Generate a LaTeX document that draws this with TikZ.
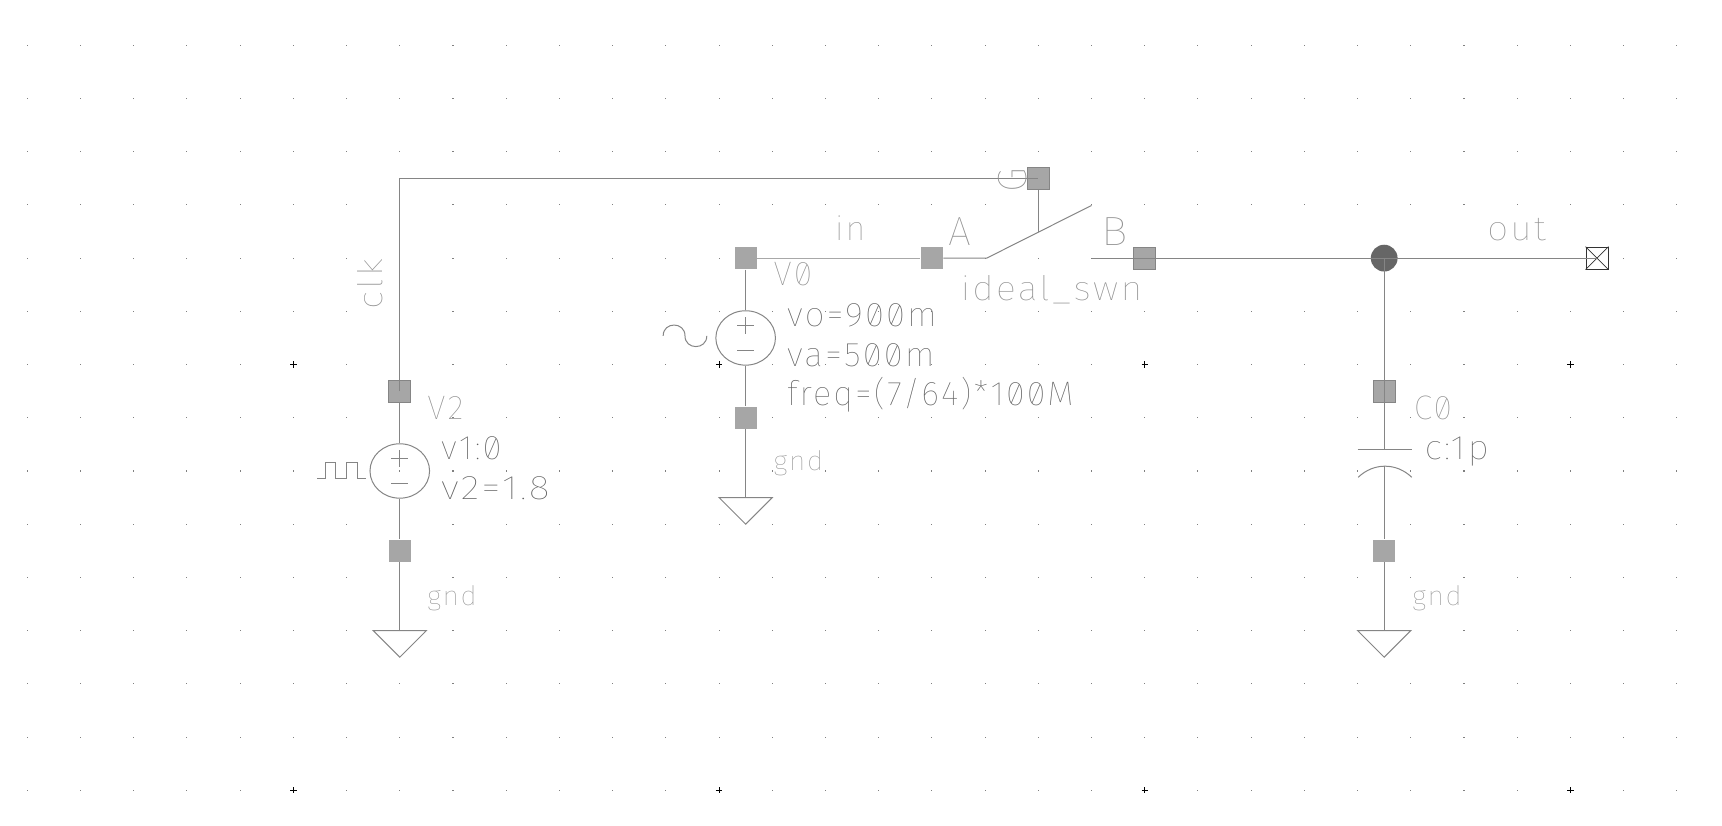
\documentclass[tikz,border=0pt]{standalone}
\usepackage{fontspec}
\setmainfont{Fira Sans Thin}[RawFeature=+zero,LetterSpace=6]
\usetikzlibrary{shapes.geometric}
\definecolor{wirecol}{HTML}{858585}
\definecolor{lightwire}{HTML}{A8A8A8}
\definecolor{pincol}{HTML}{A6A6A6}
\definecolor{namecol}{HTML}{909090}
\definecolor{parcol}{HTML}{606060}
\tikzset{
	wire/.style={wirecol, line width=0.5pt},
	pin/.style={rectangle, fill=pincol, minimum size=11pt, inner sep=0pt},
	namelbl/.style={namecol, anchor=base west, inner sep=0pt, font=\fontsize{17}{17}\selectfont},
	parlbl/.style={parcol, anchor=base west, inner sep=0pt, font=\fontsize{17}{17}\selectfont},
	smalllbl/.style={namecol, anchor=base west, inner sep=0pt, xscale=1.04, font=\fontsize{13.5}{13.5}\selectfont},
	source/.style={wirecol, line width=0.5pt, ellipse, draw, minimum width=29.8pt, minimum height=27.2pt, inner sep=0pt},
}
\begin{document}
\begin{tikzpicture}[x=26.605pt, y=-26.605pt]
	\useasboundingbox (-0.513,-0.851) rectangle (31.849,14.654);
	% grid
	\foreach \i in {0,...,31}
		\foreach \j in {0,...,14}
			\fill[gray] (\i-0.01,\j-0.01) rectangle (\i+0.01,\j+0.01);
	\foreach \i in {5,13,21,29}
		\foreach \j in {6,14}
			\draw[black, line width=0.5pt] (\i-0.06,\j) -- (\i+0.06,\j) (\i,\j-0.06) -- (\i,\j+0.06);
	% pins
	\node[pin, draw=wirecol] (p2top) at (7,6.5) {};
	\node[pin] (p2bot) at (7,9.5) {};
	\node[pin] (p0top) at (13.5,4) {};
	\node[pin] (p0bot) at (13.5,7) {};
	\node[pin] (pa) at (17,4) {};
	\node[pin, draw=wirecol] (pb) at (21,4) {};
	\node[pin, draw=wirecol] (pg) at (19,2.5) {};
	\node[pin, draw=wirecol] (pc1) at (25.5,6.5) {};
	\node[pin] (pc2) at (25.5,9.5) {};
	\node[circle, fill=black!60, minimum size=13.4pt, inner sep=0pt] (jct) at (25.5,4) {};
	\node[rectangle, draw=black!80, fill=white, line width=0.5pt, minimum size=11pt, inner sep=0pt] (pout) at (29.5,4) {};
	\draw[black!80, line width=0.4pt] (pout.north west) -- (pout.south east) (pout.north east) -- (pout.south west);
	% sources
	\node[source] (v2) at (7,8) {};
	\node[source] (v0) at (13.5,5.5) {};
	\draw[wire] (6.84,7.77) -- (7.16,7.77) (7,7.61) -- (7,7.93) (6.84,8.24) -- (7.16,8.24);
	\draw[wire] (13.34,5.27) -- (13.66,5.27) (13.5,5.11) -- (13.5,5.43) (13.34,5.74) -- (13.66,5.74);
	\draw[wire] (5.45,8.15) -- (5.61,8.15) -- (5.61,7.85) -- (5.79,7.85) -- (5.79,8.15) -- (6.0,8.15) -- (6.0,7.85) -- (6.21,7.85) -- (6.21,8.15) -- (6.37,8.15);
	\draw[wire] (11.95,5.46) .. controls (11.95,5.19) and (12.36,5.19) .. (12.36,5.46) .. controls (12.36,5.73) and (12.77,5.73) .. (12.77,5.46);
	% wires
	\coordinate (swl) at (18.03,4);
	\coordinate (swr) at (20,3.01);
	\coordinate (swb) at (20,4);
	\coordinate (swm) at (19,3.51);
	\coordinate (gnd2) at (7,11);
	\coordinate (gnd0) at (13.5,8.5);
	\coordinate (gndc) at (25.5,11);
	\coordinate (platetop) at (25.5,7.6);
	\coordinate (platebot) at (25.5,7.91);
	\draw[wire] (p2top.center) |- (pg.center);
	\draw[wire] (pg) -- (swm);
	\draw[wire] (pa) -- (swl) -- (swr);
	\draw[wire] (swb) -- (pb.center) -- (jct.center) -- (pout.center);
	\draw[lightwire, line width=0.5pt] (p0top) -- (pa);
	\draw[wire] (p2top) -- (v2) (v2) -- (p2bot) (p2bot) -- (gnd2);
	\draw[wire] (p0top) -- (v0) (v0) -- (p0bot) (p0bot) -- (gnd0);
	\draw[wire] (jct.center) -- (pc1.center) -- (platetop);
	\draw[wire] (platebot) -- (pc2) (pc2) -- (gndc);
	\draw[wire] (25,7.6) -- (26.02,7.6);
	\draw[wire] (25.01,8.12) .. controls (25.3,7.84) and (25.73,7.84) .. (26.02,8.12);
	\draw[wire] (6.5,11) -- (7.5,11) -- (7,11.5) -- cycle;
	\draw[wire] (13,8.5) -- (14,8.5) -- (13.5,9) -- cycle;
	\draw[wire] (25,11) -- (26,11) -- (25.5,11.5) -- cycle;
	% labels
	\node[namelbl, rotate=90, xscale=1.13] (lclk) at (6.67,4.98) {clk};
	\node[namelbl, rotate=90, scale=1.2] (lg) at (18.77,2.78) {G};
	\node[namelbl] (lv2) at (7.51,7.03) {V2};
	\node[parlbl, xscale=1.03] (lv1val) at (7.77,7.775) {v1:0};
	\node[parlbl, xscale=1.16] (lv2val) at (7.77,8.53) {v2=1.8};
	\node[smalllbl] (lg2) at (7.51,10.52) {gnd};
	\node[namelbl] (lv0) at (14.02,4.52) {V0};
	\node[parlbl, xscale=1.03] (lvo) at (14.27,5.29) {vo=900m};
	\node[parlbl, xscale=1.03] (lva) at (14.27,6.03) {va=500m};
	\node[parlbl, xscale=1.01] (lfreq) at (14.27,6.77) {freq=(7/64)*100M};
	\node[smalllbl] (lg0) at (14.02,8.0) {gnd};
	\node[namelbl] (lin) at (15.17,3.67) {in};
	\node[namelbl, scale=1.2] (la) at (17.3,3.77) {A};
	\node[namelbl, scale=1.2, xscale=1.1] (lb) at (20.17,3.77) {B};
	\node[namelbl, xscale=1.1] (lsw) at (17.53,4.79) {ideal\_swn};
	\node[namelbl] (lc0) at (26.05,7.03) {C0};
	\node[parlbl, xscale=1.1] (lcval) at (26.25,7.775) {c:1p};
	\node[smalllbl] (lg3) at (26.02,10.52) {gnd};
	\node[namelbl, xscale=1.09] (lout) at (27.43,3.67) {out};
\end{tikzpicture}
\end{document}
